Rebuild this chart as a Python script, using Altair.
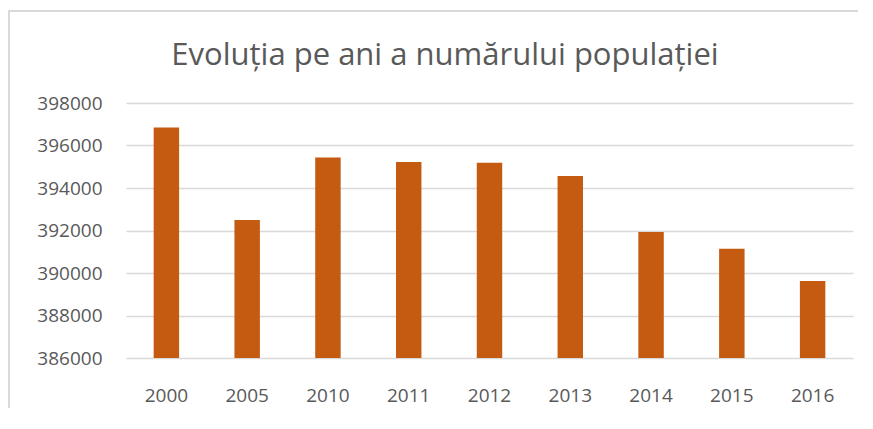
import altair as alt
import pandas as pd

years = ["2000", "2005", "2010", "2011", "2012", "2013", "2014", "2015", "2016"]
population = [396850, 392500, 395440, 395220, 395190, 394560, 391930, 391140, 389620]
y_ticks = [386000, 388000, 390000, 392000, 394000, 396000, 398000]
title_text = "Evoluția pe ani a numărului populației"

df = pd.DataFrame({"an": years, "populatie": population})

FONT = "Open Sans"
GRAY = "#595959"
GRID = "#d9d9d9"

bars = alt.Chart(df).mark_bar(color="#C55A11").encode(
    x=alt.X("an:N", sort=years, title=None,
            scale=alt.Scale(paddingInner=0.685, paddingOuter=0.3425),
            axis=alt.Axis(labelAngle=0, labelFontSize=19, labelColor=GRAY, labelFont=FONT,
                          ticks=False, tickSize=0, domain=False, labelPadding=28,
                          labelBaseline="top")),
    y=alt.Y("populatie:Q", title=None,
            scale=alt.Scale(domain=[y_ticks[0], y_ticks[-1]], zero=False, nice=False),
            axis=alt.Axis(values=y_ticks, format="d", labelFontSize=19, labelColor=GRAY,
                          labelFont=FONT, ticks=False, tickSize=0, domain=False,
                          labelPadding=24, gridColor=GRID, gridWidth=1.3)),
    y2=alt.datum(y_ticks[0]),
)

frame = pd.DataFrame({"a": [0]})
left_border = alt.Chart(frame).mark_rule(color=GRID, strokeWidth=2).encode(
    x=alt.value(-117), y=alt.value(-92), y2=alt.value(320)
)
top_border = alt.Chart(frame).mark_rule(color=GRID, strokeWidth=2).encode(
    x=alt.value(-118), x2=alt.value(740), y=alt.value(-92)
)
title = alt.Chart(frame).mark_text(
    font=FONT, fontSize=31, color=GRAY, align="center", baseline="alphabetic"
).encode(x=alt.value(319), y=alt.value(-38), text=alt.value(title_text))

chart = alt.layer(left_border, top_border, title, bars).properties(
    width=727,
    height=255,
    autosize=alt.AutoSizeParams(type="none"),
    padding={"left": 118, "top": 95, "right": 5, "bottom": 50},
).configure_view(stroke=None)

chart.save("out.html", embed_options={"renderer": "svg", "actions": False})
